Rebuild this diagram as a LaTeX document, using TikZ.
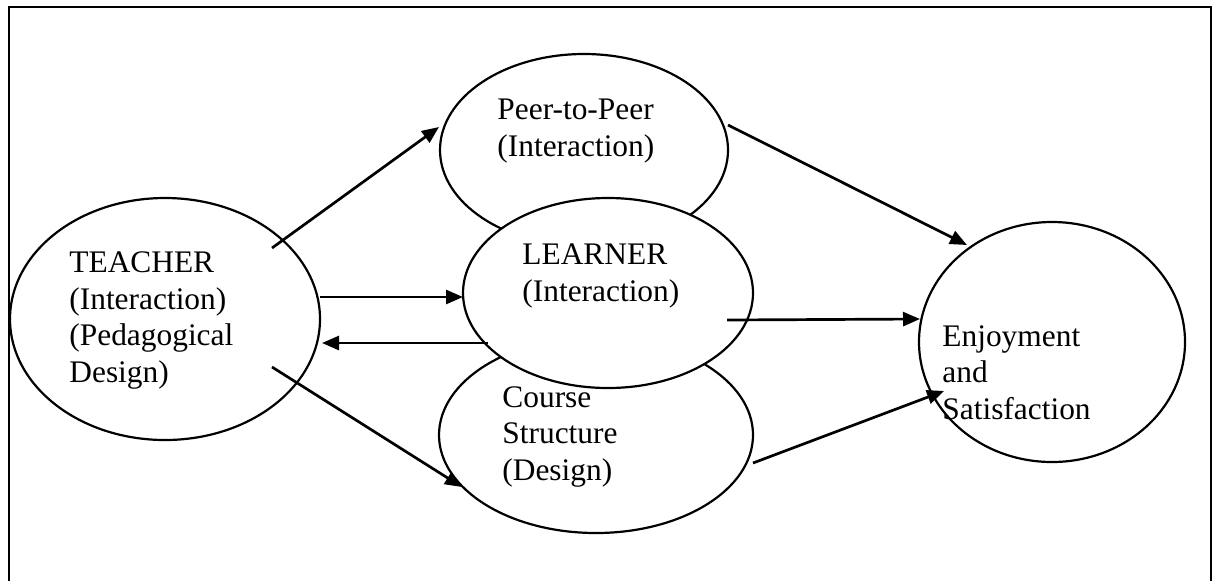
\documentclass[tikz,border=0pt]{standalone}
\usepackage{fontspec}
\setmainfont{Liberation Serif}
\usetikzlibrary{shapes.geometric,arrows.meta}

\tikzset{
  bubble/.style={draw, ellipse, line width=1.1pt, inner sep=0pt, outer sep=0pt},
  % multi-line labels are placed by the baseline of their last line
  label text/.style={anchor=base west, inner sep=0pt, align=left,
    font=\fontsize{15.7pt}{18.25pt}\selectfont},
  flow/.style={line width=1.35pt, -{Triangle[length=8.5pt,width=7pt]}},
  frame line/.style={line width=1pt}
}

\begin{document}
\begin{tikzpicture}[x=0.5pt, y=-0.5pt]
  \useasboundingbox (0,0) rectangle (1213,580);

  % outer frame, open at the foot of the page
  \draw[frame line] (9,582) |- (1211,7) -- (1211,582);

  % the five components
  \node[bubble, minimum width=144pt, minimum height=96pt] (peer) at (584,150) {};
  \node[bubble, minimum width=157pt, minimum height=98pt] (course) at (596,435) {};
  \node[bubble, fill=white, minimum width=145pt, minimum height=95pt] (learner) at (608,293) {};
  \node[bubble, minimum width=155pt, minimum height=121pt] (teacher) at (165,319) {};
  \node[bubble, minimum width=133pt, minimum height=120pt] (enjoy) at (1052,342) {};

  % labels
  \node[label text] (teachertxt) at (69,382) {TEACHER\\(Interaction)\\(Pedagogical\\Design)};
  \node[label text] (peertxt) at (497,156) {Peer-to-Peer\\(Interaction)};
  \node[label text] (learnertxt) at (522,301) {LEARNER\\(Interaction)};
  \node[label text] (coursetxt) at (502,480) {Course\\Structure\\(Design)};
  \node[label text] (enjoytxt) at (942,419) {Enjoyment\\and\\Satisfaction};

  % connector end points
  \coordinate (tp0) at (272,248);  \coordinate (tp1) at (439,127);
  \coordinate (tl0) at (320,297);  \coordinate (tl1) at (463,297);
  \coordinate (lt0) at (488,343);  \coordinate (lt1) at (322,343);
  \coordinate (tc0) at (272,367);  \coordinate (tc1) at (462,487);
  \coordinate (pe0) at (728,125);  \coordinate (pe1) at (967,245);
  \coordinate (le0) at (727,320);  \coordinate (le1) at (920,319);
  \coordinate (ce0) at (753,463);  \coordinate (ce1) at (944,391);

  % influences
  \draw[flow] (tp0) -- (tp1);
  \draw[flow] (tl0) -- (tl1);
  \draw[flow] (lt0) -- (lt1);
  \draw[flow] (tc0) -- (tc1);
  \draw[flow] (pe0) -- (pe1);
  \draw[flow] (le0) -- (le1);
  \draw[flow] (ce0) -- (ce1);
\end{tikzpicture}
\end{document}
